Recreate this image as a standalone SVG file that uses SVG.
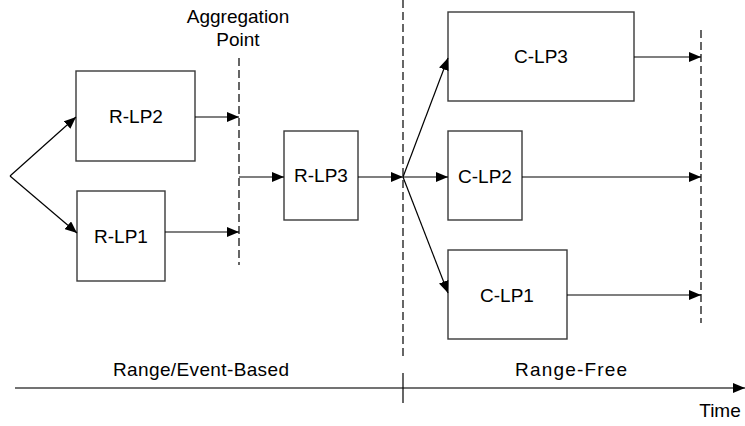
<svg xmlns="http://www.w3.org/2000/svg" width="745" height="426" viewBox="0 0 745 426">
<style>
.box{fill:#fff;stroke:#3a3a3a;stroke-width:1.4}
.lbl{font-family:"Liberation Sans",Arial,sans-serif;font-size:19px;fill:#000;text-anchor:middle}
.ln{fill:none;stroke:#000;stroke-width:1.2}
.dash{fill:none;stroke:#000;stroke-width:1.2;stroke-dasharray:8,4}
</style>
<defs>
<marker id="ah" markerUnits="userSpaceOnUse" markerWidth="12" markerHeight="10" refX="12" refY="5" orient="auto">
<path d="M0,0 L12,5 L0,10 z" fill="#000"/>
</marker>
</defs>
<rect width="745" height="426" fill="#fff"/>
<g id="guides">
<line class="dash" x1="239" y1="58" x2="239" y2="265"/>
<line class="dash" x1="403" y1="0" x2="403" y2="356"/>
<line class="dash" x1="701" y1="30" x2="701" y2="323"/>
<text class="lbl" x="238" y="23">Aggregation</text>
<text class="lbl" x="238" y="46">Point</text>
</g>
<g id="R-LP2"><rect class="box" x="76" y="71" width="119" height="90"/><text class="lbl" x="136" y="123">R-LP2</text></g>
<g id="R-LP1"><rect class="box" x="77" y="191" width="88" height="90"/><text class="lbl" x="121" y="243">R-LP1</text></g>
<g id="R-LP3"><rect class="box" x="284" y="131" width="74" height="89"/><text class="lbl" x="321" y="182">R-LP3</text></g>
<g id="C-LP3"><rect class="box" x="448" y="12" width="186" height="89"/><text class="lbl" x="541" y="63">C-LP3</text></g>
<g id="C-LP2"><rect class="box" x="448" y="131" width="74" height="89"/><text class="lbl" x="485" y="183">C-LP2</text></g>
<g id="C-LP1"><rect class="box" x="448" y="250" width="119" height="89"/><text class="lbl" x="507" y="302">C-LP1</text></g>
<g id="connectors">
<line class="ln" x1="10" y1="176" x2="76" y2="117" marker-end="url(#ah)"/>
<line class="ln" x1="10" y1="176" x2="77" y2="233" marker-end="url(#ah)"/>
<line class="ln" x1="195" y1="117" x2="239" y2="117" marker-end="url(#ah)"/>
<line class="ln" x1="165" y1="232" x2="239" y2="232" marker-end="url(#ah)"/>
<line class="ln" x1="239" y1="177" x2="284" y2="177" marker-end="url(#ah)"/>
<line class="ln" x1="358" y1="177" x2="403" y2="177" marker-end="url(#ah)"/>
<line class="ln" x1="403" y1="177" x2="448" y2="177" marker-end="url(#ah)"/>
<line class="ln" x1="403" y1="177" x2="448" y2="58" marker-end="url(#ah)"/>
<line class="ln" x1="403" y1="177" x2="448" y2="293" marker-end="url(#ah)"/>
<line class="ln" x1="634" y1="57" x2="701" y2="57" marker-end="url(#ah)"/>
<line class="ln" x1="522" y1="177" x2="701" y2="177" marker-end="url(#ah)"/>
<line class="ln" x1="567" y1="295" x2="701" y2="295" marker-end="url(#ah)"/>
</g>
<g id="timeline">
<line x1="15" y1="388" x2="745" y2="388" stroke="#444" stroke-width="1.5" marker-end="url(#ah)"/>
<line class="ln" x1="403" y1="373" x2="403" y2="403"/>
<text class="lbl" x="201" y="376" textLength="176" lengthAdjust="spacing">Range/Event-Based</text>
<text class="lbl" x="571" y="376" textLength="112" lengthAdjust="spacing">Range-Free</text>
<text class="lbl" x="720" y="417">Time</text>
</g>
</svg>
